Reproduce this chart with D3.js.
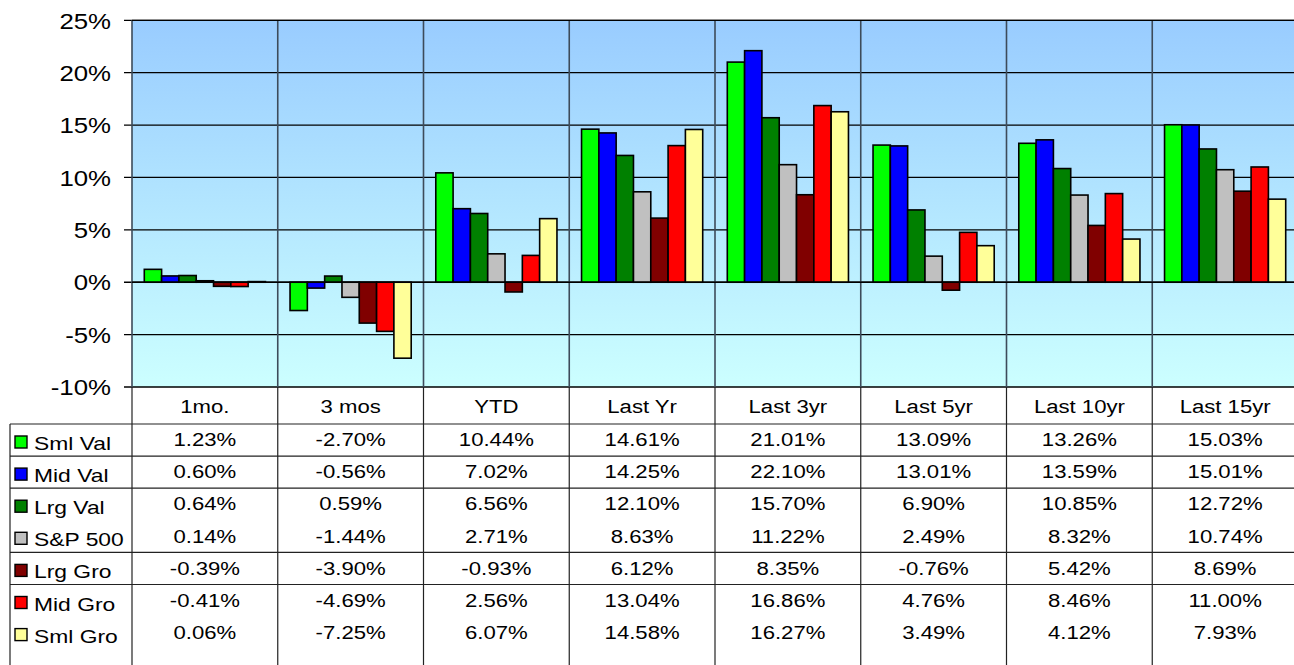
<!DOCTYPE html>
<html>
<head>
<meta charset="utf-8">
<script src="https://cdn.jsdelivr.net/npm/d3@7"></script>
<style>
  html, body { margin: 0; padding: 0; background: #fff; }
  svg { display: block; font-family: "Liberation Sans", Arial, sans-serif; }
</style>
</head>
<body>
<svg id="chart" width="1294" height="665"></svg>
<script>
const categories = ["1mo.", "3 mos", "YTD", "Last Yr", "Last 3yr", "Last 5yr", "Last 10yr", "Last 15yr"];
const seriesNames = ["Sml Val", "Mid Val", "Lrg Val", "S&P 500", "Lrg Gro", "Mid Gro", "Sml Gro"];
const seriesColors = ["#00FF00", "#0000FF", "#008000", "#C0C0C0", "#800000", "#FF0000", "#FFFF99"];
const smlVal = [1.23, -2.70, 10.44, 14.61, 21.01, 13.09, 13.26, 15.03];
const midVal = [0.60, -0.56, 7.02, 14.25, 22.10, 13.01, 13.59, 15.01];
const lrgVal = [0.64, 0.59, 6.56, 12.10, 15.70, 6.90, 10.85, 12.72];
const sp500 = [0.14, -1.44, 2.71, 8.63, 11.22, 2.49, 8.32, 10.74];
const lrgGro = [-0.39, -3.90, -0.93, 6.12, 8.35, -0.76, 5.42, 8.69];
const midGro = [-0.41, -4.69, 2.56, 13.04, 16.86, 4.76, 8.46, 11.00];
const smlGro = [0.06, -7.25, 6.07, 14.58, 16.27, 3.49, 4.12, 7.93];
const yTicks = [-10, -5, 0, 5, 10, 15, 20, 25];

const seriesValues = [smlVal, midVal, lrgVal, sp500, lrgGro, midGro, smlGro];

const svg = d3.select("#chart");
const plotLeft = 132, plotTop = 20.3, plotBottom = 387, catW = 145.75;
const plotRight = plotLeft + catW * categories.length;
const tableTop = 424, rowH = 32.1, tableLeft = 10, H = 665;
const SX = 1.23;

const x = d3.scaleBand().domain(categories).range([plotLeft, plotRight]).paddingInner(0).paddingOuter(0);
const xs = d3.scaleBand().domain(seriesNames).range([0, x.bandwidth()]).paddingInner(0).paddingOuter(0.71);
const y = d3.scaleLinear().domain([-10, 25]).range([plotBottom, plotTop]);

// background gradient
const defs = svg.append("defs");
const grad = defs.append("linearGradient").attr("id", "bg").attr("x1", 0).attr("y1", 0).attr("x2", 0).attr("y2", 1);
grad.append("stop").attr("offset", "0%").attr("stop-color", "#99CCFF");
grad.append("stop").attr("offset", "100%").attr("stop-color", "#CCFFFF");

svg.append("rect").attr("x", plotLeft).attr("y", plotTop).attr("width", plotRight - plotLeft)
  .attr("height", plotBottom - plotTop).attr("fill", "url(#bg)");

// horizontal gridlines
svg.append("g").selectAll("line").data(yTicks).join("line")
  .attr("x1", plotLeft - 8).attr("x2", plotRight)
  .attr("y1", d => y(d)).attr("y2", d => y(d))
  .attr("stroke", "#000").attr("stroke-width", 1.3);

function stretchText(g, tx, ty, str, size, anchor, sx) {
  return g.append("text")
    .attr("transform", `translate(${tx},${ty}) scale(${sx},1)`)
    .attr("text-anchor", anchor).attr("dominant-baseline", "central")
    .attr("font-size", size).attr("fill", "#000").text(str);
}
const yl = svg.append("g");
yTicks.forEach(t => stretchText(yl, 111, y(t) + 1, t + "%", 21.5, "end", 1.2));

// category separators
const seps = categories.map(c => x(c)).concat([plotRight]);
svg.append("g").selectAll("line").data(seps).join("line")
  .attr("x1", d => d).attr("x2", d => d).attr("y1", plotTop).attr("y2", plotBottom)
  .attr("stroke", "#3d4b5a").attr("stroke-width", 1.6);
svg.append("g").selectAll("line").data(seps).join("line")
  .attr("x1", d => d).attr("x2", d => d).attr("y1", plotBottom).attr("y2", H)
  .attr("stroke", "#222").attr("stroke-width", 1.2);

// bars
const barG = svg.append("g");
seriesValues.forEach((vals, si) => {
  barG.append("g").selectAll("rect").data(vals.map((v, i) => ({ v, c: categories[i] }))).join("rect")
    .attr("x", d => x(d.c) + xs(seriesNames[si]))
    .attr("width", xs.bandwidth())
    .attr("y", d => Math.min(y(d.v), y(0)))
    .attr("height", d => Math.abs(y(d.v) - y(0)))
    .attr("fill", seriesColors[si])
    .attr("stroke", "#000").attr("stroke-width", 1.6);
});

svg.append("line").attr("x1", plotLeft).attr("x2", plotRight).attr("y1", y(0)).attr("y2", y(0))
  .attr("stroke", "#000").attr("stroke-width", 1.3);
svg.append("line").attr("x1", plotLeft).attr("x2", plotRight).attr("y1", plotTop).attr("y2", plotTop)
  .attr("stroke", "#000").attr("stroke-width", 1.3);

// table
const tg = svg.append("g");
categories.forEach(c => stretchText(tg, x(c) + x.bandwidth() / 2, 407, c, 18, "middle", SX));

const borderRows = [0, 1, 2, 4, 5];
tg.selectAll("line.row").data(borderRows).join("line").attr("class", "row")
  .attr("x1", tableLeft).attr("x2", plotRight)
  .attr("y1", d => tableTop + d * rowH).attr("y2", d => tableTop + d * rowH)
  .attr("stroke", "#222").attr("stroke-width", 1.2);
tg.append("line").attr("x1", tableLeft).attr("x2", tableLeft).attr("y1", tableTop).attr("y2", H)
  .attr("stroke", "#222").attr("stroke-width", 1.2);

seriesNames.forEach((name, si) => {
  const cy = tableTop + si * rowH + 16;
  tg.append("rect").attr("x", 15).attr("y", cy - 4).attr("width", 12).attr("height", 12)
    .attr("fill", seriesColors[si]).attr("stroke", "#000").attr("stroke-width", 1.4);
  stretchText(tg, 34, cy + 3.5, name, 18, "start", 1.27);
  seriesValues[si].forEach((v, i) => {
    stretchText(tg, x(categories[i]) + x.bandwidth() / 2, cy, v.toFixed(2) + "%", 18, "middle", SX);
  });
});
</script>
</body>
</html>
